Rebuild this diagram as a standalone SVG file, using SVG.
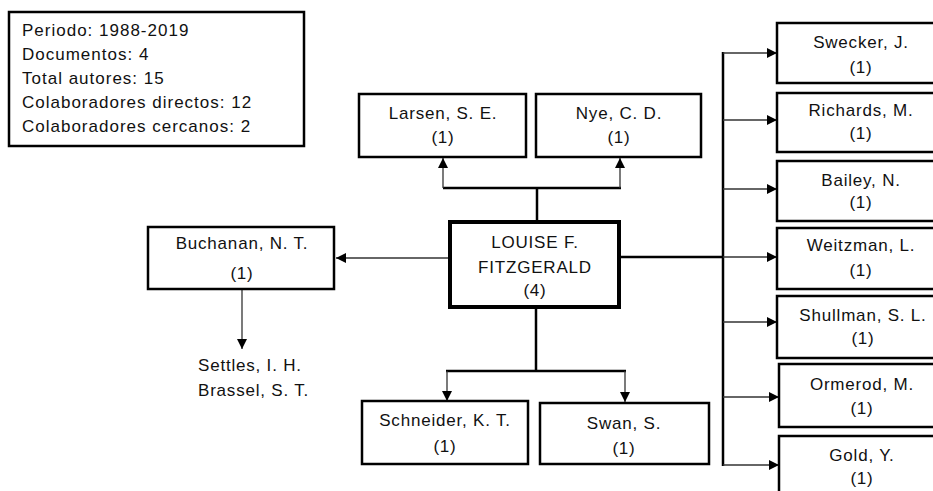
<svg xmlns="http://www.w3.org/2000/svg" width="933" height="491" viewBox="0 0 933 491">
<style>
text{font-family:"Liberation Sans",Arial,sans-serif;font-size:17px;fill:#111;letter-spacing:0.8px}
.c{text-anchor:middle}
.box{fill:#fff;stroke:#000;stroke-width:2.5}
.main{fill:#fff;stroke:#000;stroke-width:4}
.thick{stroke:#000;stroke-width:2.5;fill:none}
.thin{stroke:#333;stroke-width:1.3;fill:none;marker-end:url(#ah)}
</style>
<defs>
<marker id="ah" markerUnits="userSpaceOnUse" markerWidth="10" markerHeight="10" refX="10" refY="5" orient="auto" viewBox="0 0 10 10">
<path d="M0,0 L10,5 L0,10 z" fill="#000"/>
</marker>
</defs>
<rect width="933" height="491" fill="#fff"/>

<g id="info">
<rect x="9" y="12" width="295" height="134" class="box"/>
<text x="22" y="36" style="letter-spacing:1px">Periodo: 1988-2019</text>
<text x="22" y="60" style="letter-spacing:1px">Documentos: 4</text>
<text x="22" y="84" style="letter-spacing:1px">Total autores: 15</text>
<text x="22" y="108" style="letter-spacing:1px">Colaboradores directos: 12</text>
<text x="22" y="132" style="letter-spacing:1px">Colaboradores cercanos: 2</text>
</g>

<g id="connectors">
<line x1="537" y1="222" x2="537" y2="188" class="thick"/>
<line x1="443" y1="188" x2="621" y2="188" class="thick"/>
<line x1="443" y1="188" x2="443" y2="158" class="thin"/>
<line x1="620" y1="188" x2="620" y2="158" class="thin"/>
<line x1="450" y1="258" x2="336" y2="258" class="thin"/>
<line x1="242" y1="290" x2="242" y2="349" class="thin"/>
<line x1="536" y1="307" x2="536" y2="371" class="thick"/>
<line x1="446" y1="371" x2="626" y2="371" class="thick"/>
<line x1="447" y1="371" x2="447" y2="401" class="thin"/>
<line x1="625" y1="371" x2="625" y2="402" class="thin"/>
<line x1="619" y1="257" x2="723" y2="257" class="thick"/>
<line x1="723" y1="52" x2="723" y2="466" class="thick"/>
<line x1="723" y1="53" x2="777" y2="53" class="thin"/>
<line x1="723" y1="120" x2="777" y2="120" class="thin"/>
<line x1="723" y1="189" x2="777" y2="189" class="thin"/>
<line x1="723" y1="257" x2="777" y2="257" class="thin"/>
<line x1="723" y1="322" x2="777" y2="322" class="thin"/>
<line x1="723" y1="397" x2="779" y2="397" class="thin"/>
<line x1="723" y1="465" x2="779" y2="465" class="thin"/>
</g>

<g id="n-fitzgerald">
<rect x="450" y="222" width="169" height="85" class="main"/>
<text x="535" y="248" class="c">LOUISE F.</text>
<text x="535" y="273" class="c">FITZGERALD</text>
<text x="535" y="296" class="c">(4)</text>
</g>

<g id="n-larsen">
<rect x="359" y="94" width="167" height="63" class="box"/>
<text x="443" y="119" class="c">Larsen, S. E.</text>
<text x="443" y="143" class="c">(1)</text>
</g>

<g id="n-nye">
<rect x="536" y="94" width="165" height="63" class="box"/>
<text x="619" y="119" class="c">Nye, C. D.</text>
<text x="619" y="143" class="c">(1)</text>
</g>

<g id="n-buchanan">
<rect x="148" y="227" width="186" height="62" class="box"/>
<text x="242" y="249" class="c">Buchanan, N. T.</text>
<text x="242" y="279" class="c">(1)</text>
</g>

<g id="n-settles">
<text x="198" y="371">Settles, I. H.</text>
<text x="198" y="396">Brassel, S. T.</text>
</g>

<g id="n-schneider">
<rect x="362" y="401" width="166" height="63" class="box"/>
<text x="445" y="426" class="c">Schneider, K. T.</text>
<text x="445" y="452" class="c">(1)</text>
</g>

<g id="n-swan">
<rect x="540" y="403" width="169" height="61" class="box"/>
<text x="624" y="429" class="c">Swan, S.</text>
<text x="624" y="454" class="c">(1)</text>
</g>

<g id="n-swecker">
<rect x="777" y="23" width="170" height="60" class="box"/>
<text x="861" y="48" class="c">Swecker, J.</text>
<text x="861" y="73" class="c">(1)</text>
</g>

<g id="n-richards">
<rect x="777" y="93" width="170" height="59" class="box"/>
<text x="861" y="116" class="c">Richards, M.</text>
<text x="861" y="139" class="c">(1)</text>
</g>

<g id="n-bailey">
<rect x="777" y="161" width="170" height="60" class="box"/>
<text x="861" y="186" class="c">Bailey, N.</text>
<text x="861" y="208" class="c">(1)</text>
</g>

<g id="n-weitzman">
<rect x="777" y="228" width="170" height="61" class="box"/>
<text x="861" y="251" class="c">Weitzman, L.</text>
<text x="861" y="276" class="c">(1)</text>
</g>

<g id="n-shullman">
<rect x="777" y="296" width="170" height="62" class="box"/>
<text x="863" y="321" class="c">Shullman, S. L.</text>
<text x="863" y="344" class="c">(1)</text>
</g>

<g id="n-ormerod">
<rect x="779" y="364" width="170" height="63" class="box"/>
<text x="862" y="390" class="c">Ormerod, M.</text>
<text x="862" y="414" class="c">(1)</text>
</g>

<g id="n-gold">
<rect x="779" y="436" width="170" height="63" class="box"/>
<text x="862" y="461" class="c">Gold, Y.</text>
<text x="862" y="484" class="c">(1)</text>
</g>
</svg>
